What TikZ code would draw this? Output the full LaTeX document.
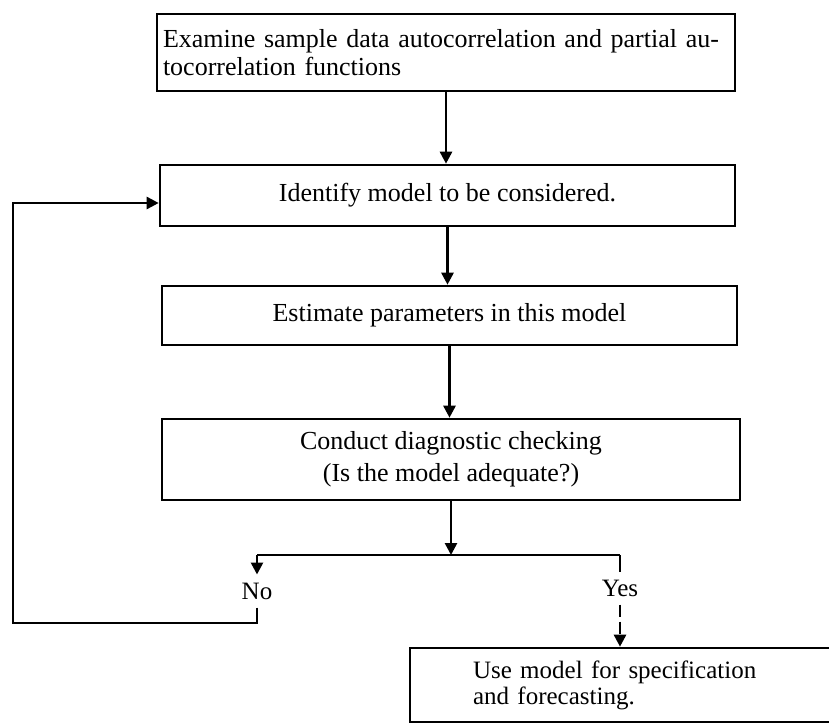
\documentclass[tikz,border=0pt]{standalone}
\usepackage{fontspec}
\setmainfont{Liberation Serif}
\usetikzlibrary{arrows.meta}
\begin{document}
\begin{tikzpicture}[x=1pt,y=-1pt,
  box/.style={draw, line width=2.6pt, inner sep=0pt, font=\fontsize{26}{28}\selectfont},
  conn/.style={line width=2.6pt},
  arr/.style={conn, -{Triangle[length=12pt,width=12pt]}},
  lbl/.style={font=\fontsize{25}{28}\selectfont, inner xsep=2pt, inner ysep=8pt}]
\useasboundingbox (0,0) rectangle (829,726);
\node[box, text width=566pt, inner xsep=6pt, minimum height=77pt, align=left] (b1) at (446,52.5)
  {Examine sample data autocorrelation and partial au-\\tocorrelation functions};
\node[box, minimum width=575pt, minimum height=61pt] (b2) at (447.5,195.5) {Identify model to be considered.};
\node[box, minimum width=575pt, minimum height=59pt] (b3) at (449.5,315.5) {Estimate parameters in this model};
\node[box, minimum width=578pt, minimum height=81pt, align=center, font=\fontsize{26}{32}\selectfont] (b4) at (451,459.5)
  {Conduct diagnostic checking\\(Is the model adequate?)};
\node[box, text width=340pt, inner xsep=63pt, minimum height=74pt, align=left, font=\fontsize{25}{26}\selectfont] (b5) at (643,685)
  {Use model for specification\\and forecasting.};
\node[lbl] (no) at (257,591) {No};
\node[lbl] (yes) at (620,588) {Yes};
\coordinate (j) at (447,555);
\coordinate (jl) at (257,555);
\coordinate (jr) at (620,555);
\coordinate (bl) at (13,623);
\coordinate (tl) at (13,203);
\draw[arr] (b1.south) -- (b1.south |- b2.north);
\draw[arr] (b2.south) -- (b2.south |- b3.north);
\draw[arr] (b3.south) -- (b3.south |- b4.north);
\draw[arr] (b4.south) -- (b4.south |- j);
\draw[conn] (jl) -- (jr);
\draw[arr] (jl) -- (no.north);
\draw[arr] (no.south) |- (bl) -- (tl) -- (tl -| b2.west);
\draw[conn] (jr) -- (yes.north);
\draw[arr, dash pattern=on 12pt off 5pt] (yes.south) -- (yes.south |- b5.north);
\end{tikzpicture}
\end{document}
